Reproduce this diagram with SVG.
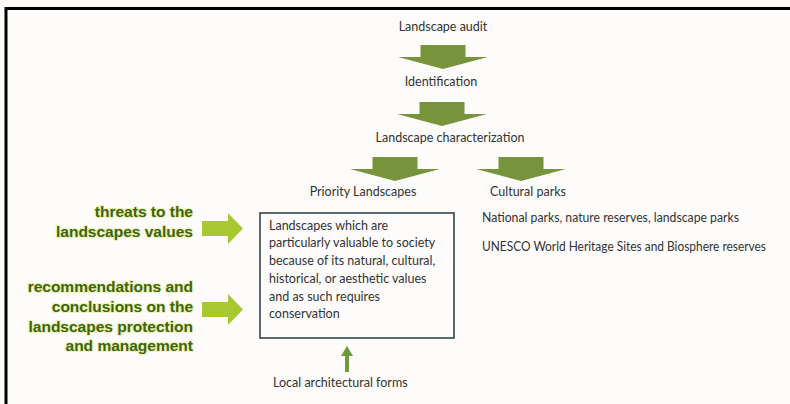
<svg xmlns="http://www.w3.org/2000/svg" width="790" height="404" viewBox="0 0 790 404">
<defs>
<style>
.t{font-family:Lato,"Liberation Sans",sans-serif;font-size:12.5px;fill:#333333}
.c{text-anchor:middle}
.g{font-family:"Liberation Sans",Arial,sans-serif;font-weight:bold;font-size:15.5px;fill:#3a6614;text-anchor:end;stroke:#ecee9a;stroke-width:2.2;stroke-opacity:0.8;stroke-linejoin:round;paint-order:stroke}
.big{fill:#77933c}
.lime{fill:#a8c832}
</style>
<path id="down" d="M-22.5,0 H22.5 V12 H45 L0,24 L-45,12 H-22.5 Z"/>
<path id="right" d="M0,-7.5 H26 V-15.5 L41,0 L26,15.5 V7.5 H0 Z"/>
</defs>
<rect x="0" y="0" width="790" height="404" fill="#fdfcfa"/>
<path d="M6,404 V8.5 H790" fill="none" stroke="#000" stroke-width="3"/>

<g id="audit"><text class="t c" x="443" y="31">Landscape audit</text></g>
<g id="identification"><text class="t c" x="441" y="86">Identification</text></g>
<g id="characterization"><text class="t c" x="450" y="142">Landscape characterization</text></g>
<g id="priority"><text class="t c" x="363" y="196">Priority Landscapes</text></g>
<g id="cultural"><text class="t" x="490" y="196">Cultural parks</text></g>
<g id="cultural-items">
<text class="t" x="482" y="222" textLength="257" lengthAdjust="spacingAndGlyphs">National parks, nature reserves, landscape parks</text>
<text class="t" x="482" y="251" textLength="284" lengthAdjust="spacingAndGlyphs">UNESCO World Heritage Sites and Biosphere reserves</text>
</g>
<g id="priority-box">
<rect x="260" y="213" width="194" height="125" fill="none" stroke="#34444e" stroke-width="1.6"/>
<text class="t" x="269" y="229.5">Landscapes which are</text>
<text class="t" x="269" y="247">particularly valuable to society</text>
<text class="t" x="269" y="265">because of its natural, cultural,</text>
<text class="t" x="269" y="283">historical, or aesthetic values</text>
<text class="t" x="269" y="300.5">and as such requires</text>
<text class="t" x="269" y="318">conservation</text>
</g>
<g id="local"><text class="t" x="273" y="387">Local architectural forms</text></g>
<g id="threats">
<text class="g" x="193" y="217">threats to the</text>
<text class="g" x="193" y="237">landscapes values</text>
</g>
<g id="recommendations">
<text class="g" x="193" y="292">recommendations and</text>
<text class="g" x="193" y="312">conclusions on the</text>
<text class="g" x="193" y="332">landscapes protection</text>
<text class="g" x="193" y="351">and management</text>
</g>

<g id="connectors">
<use href="#down" class="big" x="443" y="45"/>
<use href="#down" class="big" x="442" y="102"/>
<use href="#down" class="big" x="395" y="157"/>
<use href="#down" class="big" x="521" y="157"/>
<use href="#right" class="lime" x="202" y="228.5"/>
<use href="#right" class="lime" x="202" y="309.5"/>
<path d="M347,346 L353,356 H349 V372 H345 V356 H341 Z" fill="#6f9a3a"/>
</g>
</svg>
